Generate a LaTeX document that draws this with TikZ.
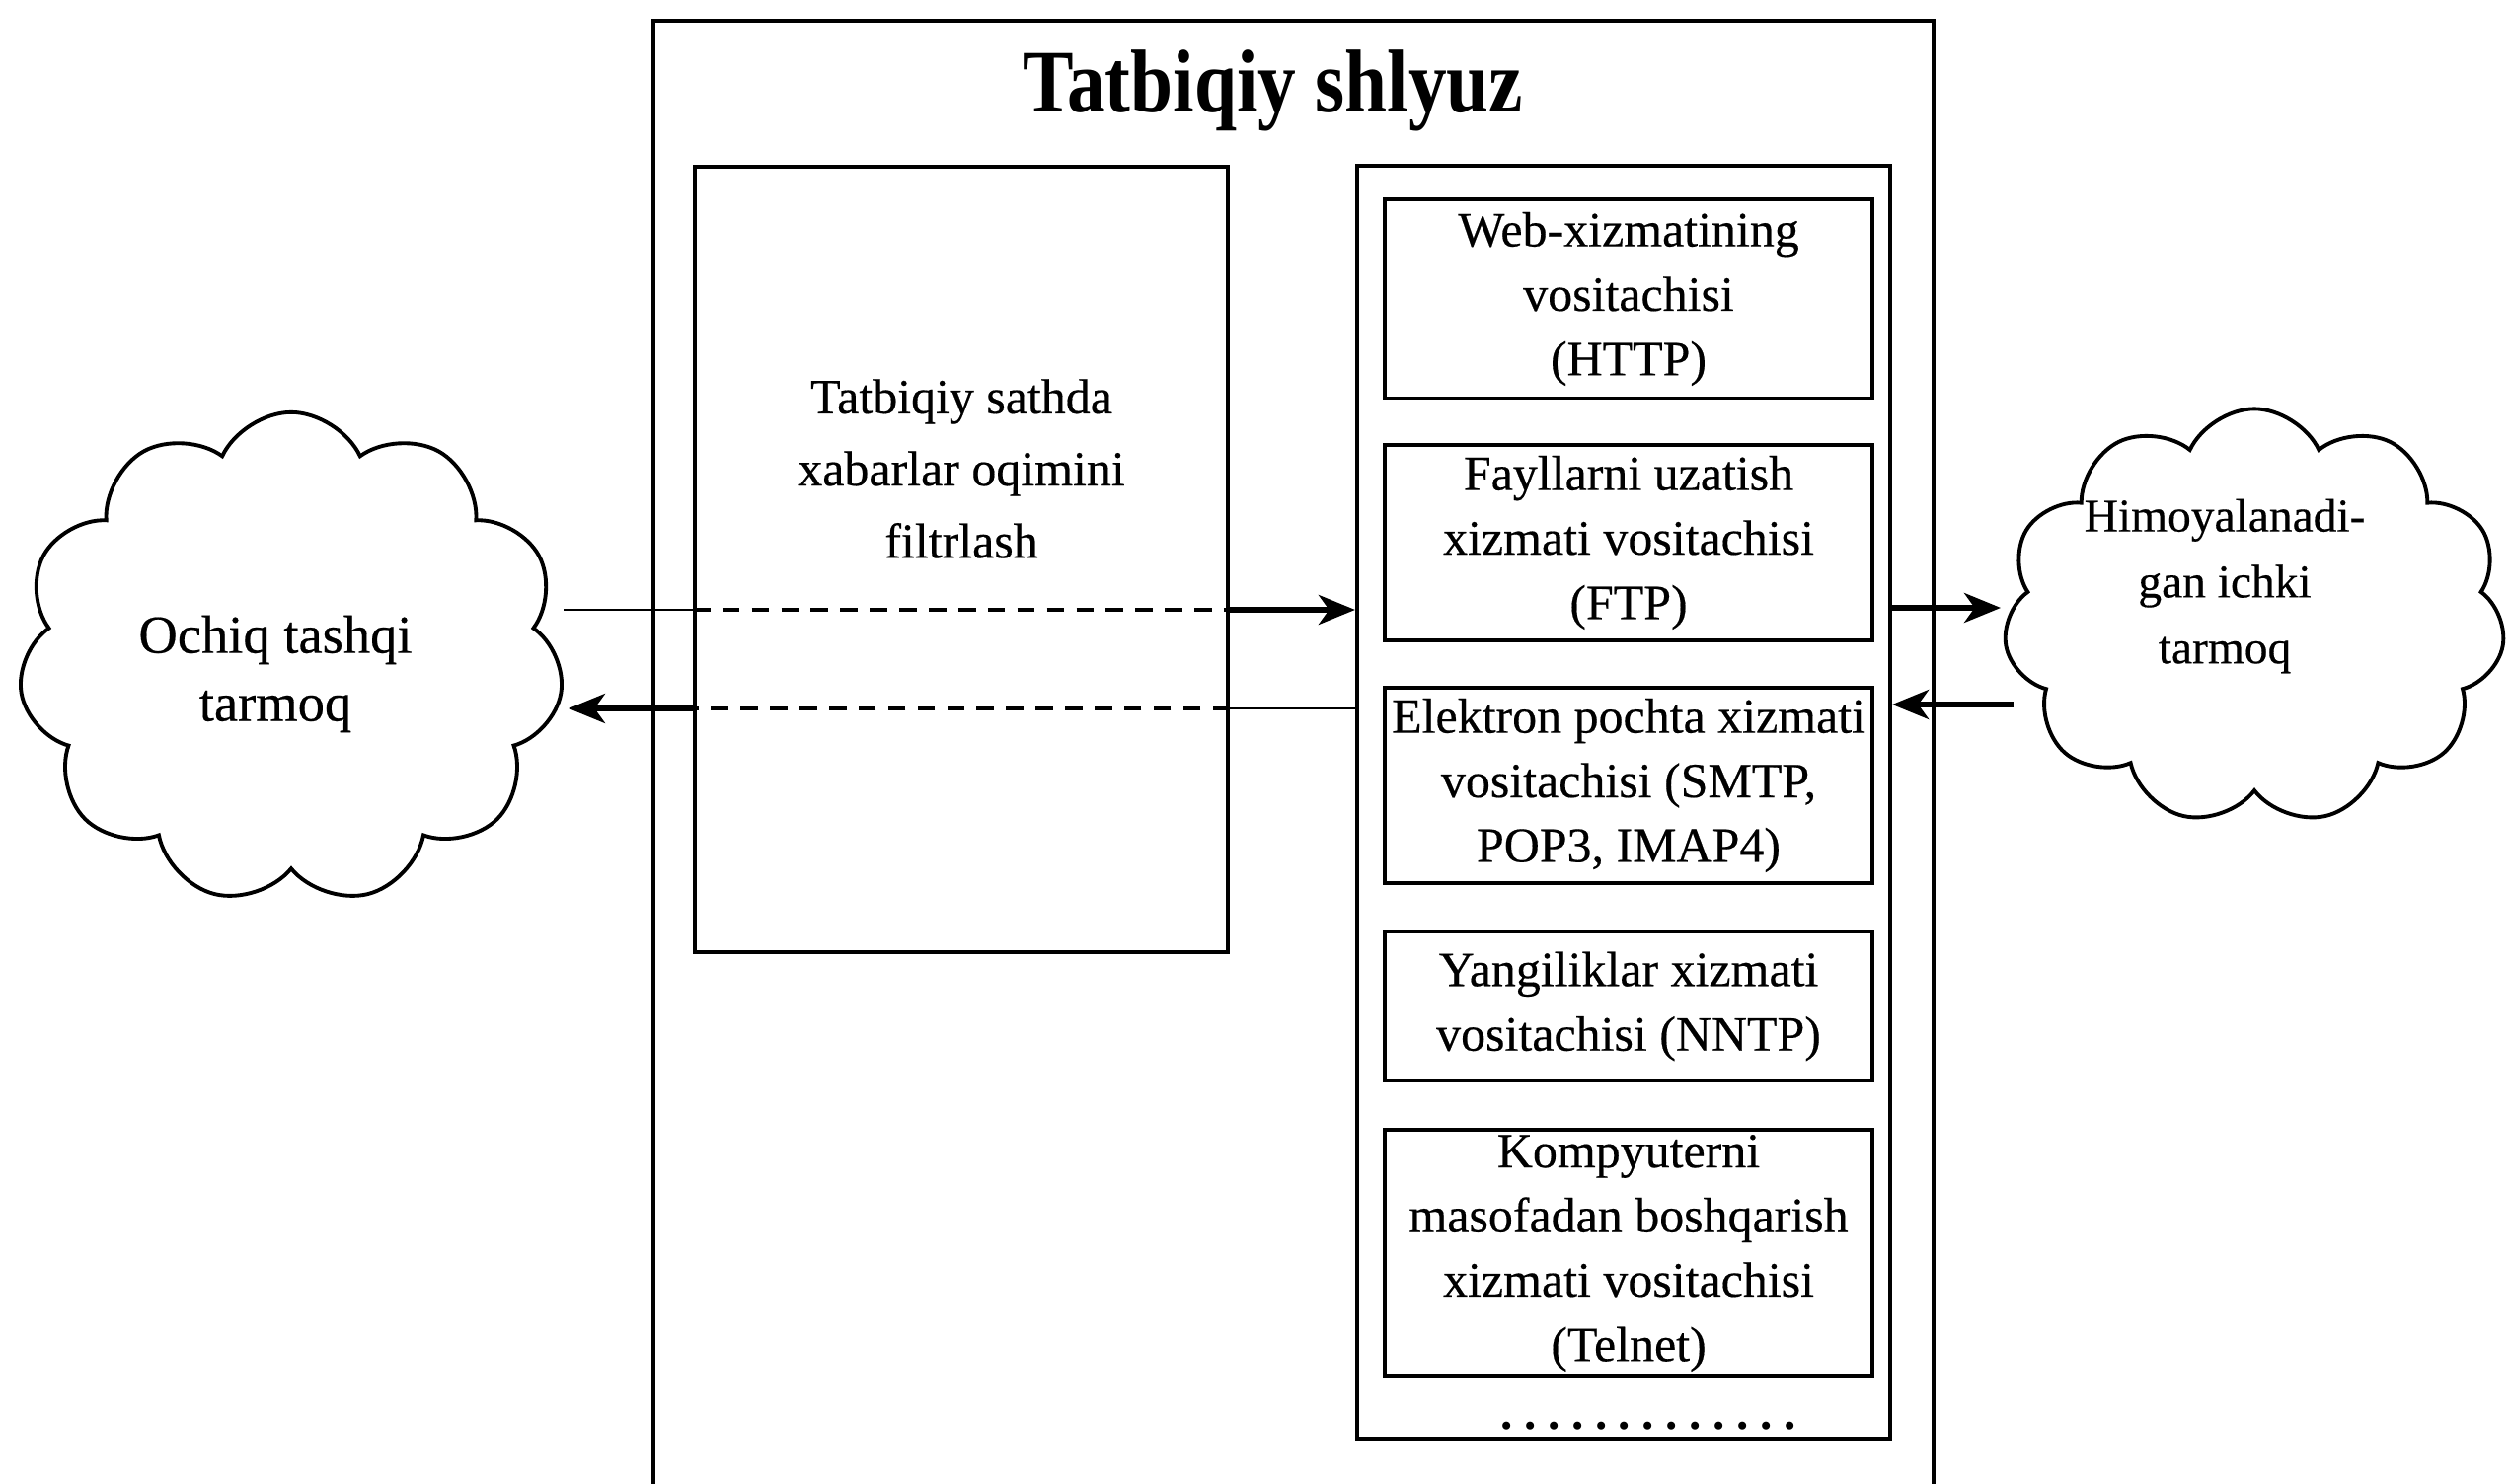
\documentclass[tikz,border=0pt]{standalone}
\usepackage{fontspec}
\setmainfont{Liberation Serif}
\newfontfamily\scanfont{Liberation Serif}[FakeBold=0.35]
\usetikzlibrary{shapes.symbols,arrows.meta,calc}
\newcommand\dotgap{\hspace{3.3pt}}
\begin{document}
\begin{tikzpicture}[x=0.01cm,y=-0.01cm,
  box/.style={draw, line width=1.1pt, inner sep=0pt},
  sub/.style={box, minimum width=4.94cm, align=center, font=\scanfont\fontsize{14.2}{18.6}\selectfont},
  lbl/.style={align=center, inner sep=0pt},
  netcloud/.style={cloud, draw, line width=1.1pt, cloud puffs=11, cloud puff arc=130, cloud ignores aspect, inner sep=0pt},
  arr/.style={line width=1.6pt, -{Stealth[length=10.5pt,width=8.5pt,inset=3pt]}},
  thinln/.style={line width=0.8pt},
  dashln/.style={line width=1.1pt, dash pattern=on 5pt off 3.5pt}
]
\useasboundingbox (0,0) rectangle (2543,1504);
\fill[white] (0,0) rectangle (2543,1504);

% outer gateway frame (open at the bottom edge of the picture)
\draw[line width=1.1pt] (662,1530) -- (662,21) -- (1959,21) -- (1959,1530);
\node[lbl, font=\bfseries\fontsize{22}{26}\selectfont] (title) at (1290,92) {\scalebox{1}[1.17]{Tatbiqiy shlyuz}};

% filtering block
\node[box, minimum width=5.40cm, minimum height=7.96cm] (filt) at (974,567) {};
\node[lbl, font=\scanfont\fontsize{14.2}{20.8}\selectfont] (filttxt) at (974,475) {Tatbiqiy sathda\\xabarlar oqimini\\filtrlash};

% proxies container
\node[box, minimum width=5.40cm, minimum height=12.89cm] (prox) at (1645,813) {};
\node[sub, minimum height=2.01cm] (http) at (1650,303) {Web-xizmatining\\vositachisi\\(HTTP)};
\node[sub, minimum height=1.98cm] (ftp) at (1650,550) {Fayllarni uzatish\\xizmati vositachisi\\(FTP)};
\node[sub, minimum height=1.98cm] (smtp) at (1650,796) {Elektron pochta xizmati\\vositachisi (SMTP,\\POP3, IMAP4)};
\node[sub, minimum height=1.51cm] (nntp) at (1650,1020) {Yangiliklar xizmati\\vositachisi (NNTP)};
\node[sub, minimum height=2.49cm] (telnet) at (1650,1270) {Kompyuterni\\masofadan boshqarish\\xizmati vositachisi\\(Telnet)};
\node[lbl, font=\bfseries\fontsize{14}{16}\selectfont, anchor=base] (dots) at (1670,1448) {.\dotgap.\dotgap.\dotgap.\dotgap.\dotgap.\dotgap.\dotgap.\dotgap.\dotgap.\dotgap.\dotgap.\dotgap.};

% clouds
\node[netcloud, minimum width=5.52cm, minimum height=4.98cm] (ext) at (295,667) {};
\node[lbl, font=\scanfont\fontsize{15.5}{19.6}\selectfont] (exttxt) at (279,683) {Ochiq tashqi\\tarmoq};
\node[netcloud, minimum width=5.08cm, minimum height=4.21cm] (int) at (2284,625) {};
\node[lbl, font=\scanfont\fontsize{13.5}{19}\selectfont] (inttxt) at (2254,594) {Himoyalanadi-\\gan ichki\\tarmoq};

% incoming flow (outside -> proxies)
\coordinate (a1) at (571,618);
\draw[thinln] (a1) -- (a1 -| filt.west);
\draw[dashln] (a1 -| filt.west) -- (a1 -| filt.east);
\draw[arr] (a1 -| filt.east) -- (a1 -| prox.west);

% outgoing flow (proxies -> outside)
\coordinate (a2) at (576,718);
\draw[thinln] (a2 -| prox.west) -- (a2 -| filt.east);
\draw[dashln] (a2 -| filt.east) -- (a2 -| filt.west);
\draw[arr] (a2 -| filt.west) -- (a2);

% proxies <-> internal network
\coordinate (b1) at (2027,616);
\draw[arr] (b1 -| prox.east) -- (b1);
\coordinate (b2) at (2040,714);
\draw[arr] (b2) -- (b2 -| prox.east);
\end{tikzpicture}
\end{document}
